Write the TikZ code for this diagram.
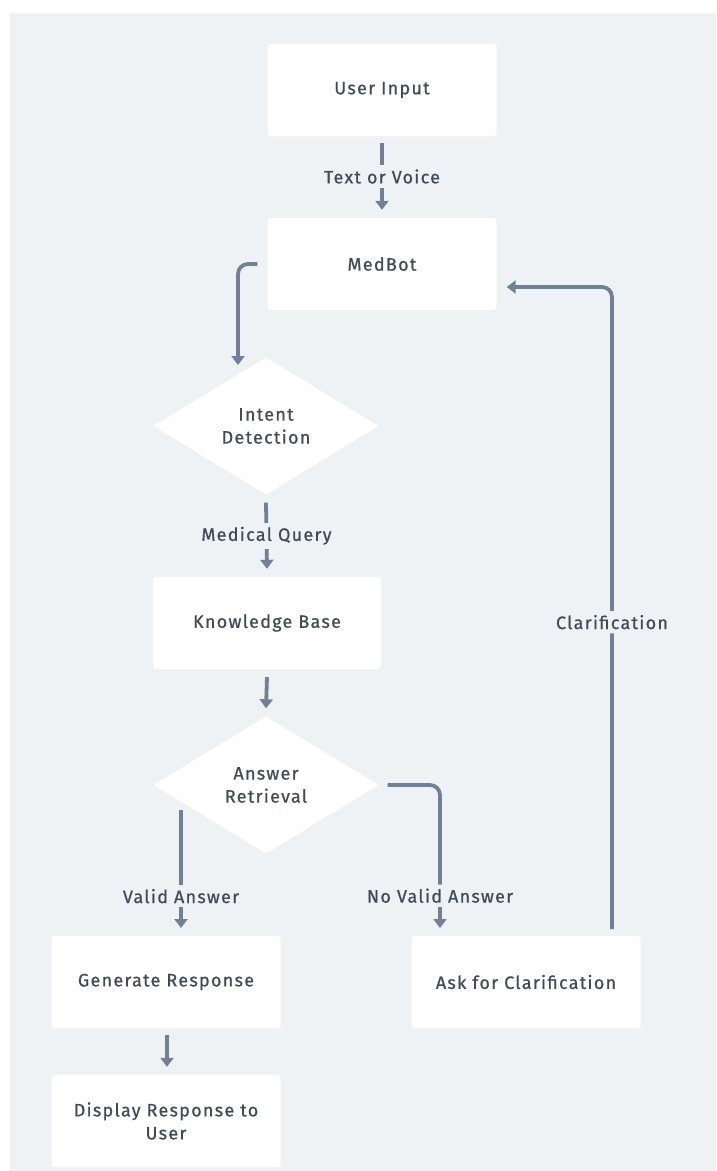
\documentclass[tikz,border=0pt]{standalone}
\usepackage{fontspec}
\setmainfont{Fira Sans}[LetterSpace=7,FakeBold=0.7]
\usetikzlibrary{shapes.geometric,arrows.meta}
\definecolor{bgc}{HTML}{EFF2F5}
\definecolor{linec}{HTML}{718096}
\definecolor{txtc}{HTML}{414B57}
\begin{document}
\begin{tikzpicture}[x=1pt,y=-1pt,
  font=\fontsize{18}{23}\selectfont, text=txtc,
  box/.style={rectangle, fill=white, rounded corners=3pt, minimum width=229pt, minimum height=92pt, align=center, inner sep=0pt},
  dia/.style={diamond, fill=white, minimum width=225pt, minimum height=137pt, align=center, inner sep=0pt},
  arr/.style={draw=linec, line width=3.8pt, -{Triangle[width=13pt,length=9pt]}},
  lbl/.style={fill=bgc, inner sep=4pt, text=txtc}]
\useasboundingbox (0,0) rectangle (716,1171);
\fill[bgc] (10,13) rectangle (716,1171);
\node[box] (ui) at (382,90) {User Input};
\node[box] (mb) at (382,264) {MedBot};
\node[dia] (id) at (266,426) {Intent\\Detection};
\node[box, minimum width=228pt] (kb) at (267,623) {Knowledge Base};
\node[dia] (ar) at (266,785) {Answer\\Retrieval};
\node[box] (gr) at (166,982) {Generate Response};
\node[box] (ac) at (526,982) {Ask for Clarification};
\node[box] (dr) at (166,1121) {Display Response to\\User};
\coordinate (idin) at (238,365);
\coordinate (va) at (181,810);
\coordinate (vae) at (181,928);
\coordinate (nva) at (440,928);
\coordinate (cl) at (612,929);
\draw[arr] ([yshift=-7pt]ui.south) -- node[lbl]{Text or Voice} ([yshift=8pt]mb.north);
\draw[arr, rounded corners=10pt] ([xshift=-10pt]mb.west) -| (idin);
\draw[arr] ([yshift=-8pt]id.south) -- node[lbl]{Medical Query} ([yshift=8pt]kb.north);
\draw[arr] ([yshift=-8pt]kb.south) -- ([yshift=8pt]ar.north);
\draw[arr] (va) -- node[lbl, pos=0.73]{Valid Answer} (vae);
\draw[arr, rounded corners=10pt] ([xshift=9pt]ar.east) -| node[lbl, pos=0.887]{No Valid Answer} (nva);
\draw[arr, rounded corners=10pt] (cl) |- node[lbl, pos=0.239]{Clarification} ([xshift=10pt]mb.east |- 0,287);
\draw[arr] ([yshift=-7pt]gr.south -| 167,0) -- ([yshift=8pt]dr.north -| 167,0);
\end{tikzpicture}
\end{document}
